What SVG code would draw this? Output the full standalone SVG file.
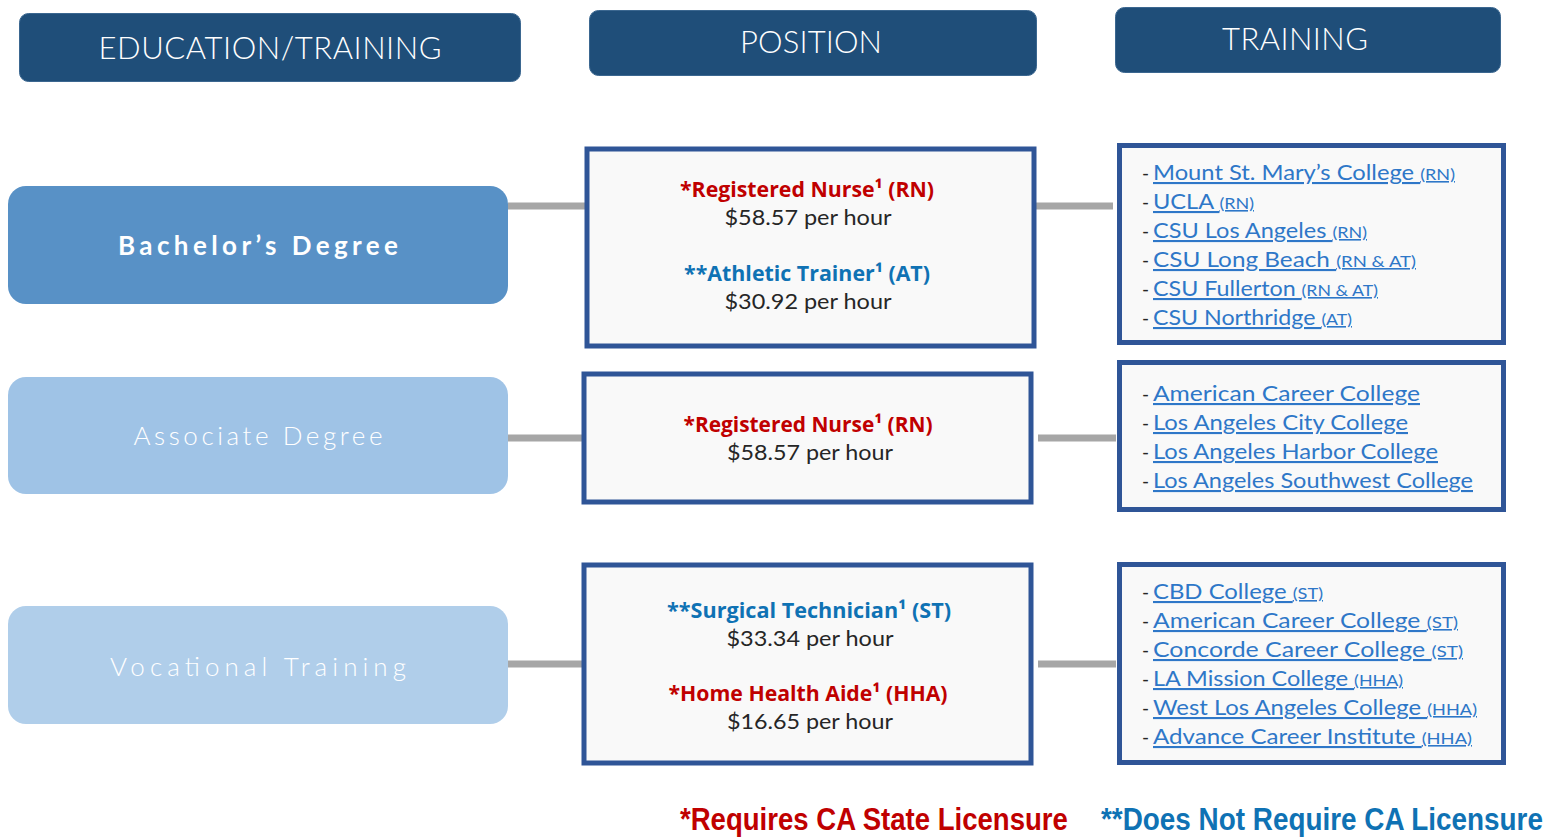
<svg xmlns="http://www.w3.org/2000/svg" width="1557" height="840" viewBox="0 0 1557 840">
<style>
.hdr{fill:#1F4E79;stroke:#3B6790;stroke-width:1}
.hdrt{font-family:Lato,"Open Sans",sans-serif;font-weight:300;font-size:31px;fill:#FFFFFF;text-anchor:middle}
.lvl{font-family:Lato,"Open Sans",sans-serif;font-size:26px;fill:#FFFFFF;text-anchor:middle}
.box{fill:#F9F9F9;stroke:#2F5597;stroke-width:5}
.conn{stroke:#A6A6A6;stroke-width:7;fill:none}
.pos{font-family:"Open Sans",Lato,sans-serif;font-weight:700;font-size:22px;text-anchor:middle}
.red{fill:#C00000}
.blue{fill:#0F72B4}
.pay{font-family:Lato,"Open Sans",sans-serif;font-size:21px;fill:#262626;text-anchor:middle}
.dash{font-family:Lato,sans-serif;font-size:19px;fill:#262626}
.lnk{font-family:Lato,"Open Sans",sans-serif;font-size:21px;fill:#2E77C8;text-decoration:underline}
.sm{font-size:16px}
.foot{font-family:"Liberation Sans",Arial,sans-serif;font-weight:700;font-size:31px}
</style>
<g id="header-education"><rect class="hdr" x="19.5" y="13.5" width="501" height="68" rx="9"/><text class="hdrt" x="270" y="59" textLength="343" lengthAdjust="spacing">EDUCATION/TRAINING</text></g>
<g id="header-position"><rect class="hdr" x="589.5" y="10.5" width="447" height="65" rx="9"/><text class="hdrt" x="811" y="53" textLength="142" lengthAdjust="spacing">POSITION</text></g>
<g id="header-training"><rect class="hdr" x="1115.5" y="7.5" width="385" height="65" rx="9"/><text class="hdrt" x="1295" y="50" textLength="146" lengthAdjust="spacing">TRAINING</text></g>

<g id="connectors">
<line class="conn" x1="508" y1="206" x2="586" y2="206"/>
<line class="conn" x1="1036" y1="206" x2="1113" y2="206"/>
<line class="conn" x1="507" y1="438" x2="583" y2="438"/>
<line class="conn" x1="1038" y1="438" x2="1116" y2="438"/>
<line class="conn" x1="508" y1="664" x2="583" y2="664"/>
<line class="conn" x1="1038" y1="664" x2="1116" y2="664"/>
</g>

<g id="bachelors"><rect x="8" y="186" width="500" height="118" rx="18" fill="#5891C6"/><text class="lvl" x="258" y="255" font-weight="700" font-size="24" textLength="280" lengthAdjust="spacing">Bachelor’s Degree</text></g>
<g id="associate"><rect x="8" y="377" width="500" height="117" rx="18" fill="#9FC3E6"/><text class="lvl" x="258" y="445" font-weight="300" textLength="249" lengthAdjust="spacing">Associate Degree</text></g>
<g id="vocational"><rect x="8" y="606" width="500" height="118" rx="18" fill="#B0CEEA"/><text class="lvl" x="258" y="676" font-weight="300" textLength="296" lengthAdjust="spacing">Vocational Training</text></g>

<g id="pos-bachelors"><rect class="box" x="587" y="149" width="447" height="197"/>
<text class="pos red" x="807" y="197" textLength="254" lengthAdjust="spacingAndGlyphs">*Registered Nurse¹ (RN)</text>
<text class="pay" x="808" y="225" textLength="167" lengthAdjust="spacingAndGlyphs">$58.57 per hour</text>
<text class="pos blue" x="807" y="281" textLength="246" lengthAdjust="spacingAndGlyphs">**Athletic Trainer¹ (AT)</text>
<text class="pay" x="808" y="309" textLength="167" lengthAdjust="spacingAndGlyphs">$30.92 per hour</text></g>

<g id="pos-associate"><rect class="box" x="584" y="374" width="447" height="128"/>
<text class="pos red" x="808" y="432" textLength="249" lengthAdjust="spacingAndGlyphs">*Registered Nurse¹ (RN)</text>
<text class="pay" x="810" y="460" textLength="166" lengthAdjust="spacingAndGlyphs">$58.57 per hour</text></g>

<g id="pos-vocational"><rect class="box" x="584" y="565" width="447" height="198"/>
<text class="pos blue" x="809" y="618" textLength="284" lengthAdjust="spacingAndGlyphs">**Surgical Technician¹ (ST)</text>
<text class="pay" x="810" y="646" textLength="167" lengthAdjust="spacingAndGlyphs">$33.34 per hour</text>
<text class="pos red" x="808" y="701" textLength="279" lengthAdjust="spacingAndGlyphs">*Home Health Aide¹ (HHA)</text>
<text class="pay" x="810" y="729" textLength="166" lengthAdjust="spacingAndGlyphs">$16.65 per hour</text></g>

<g id="train-bachelors"><rect class="box" x="1119.5" y="145.5" width="384" height="197"/>
<text class="dash" x="1142" y="180">-</text><text class="lnk" x="1153" y="180" textLength="302" lengthAdjust="spacingAndGlyphs">Mount St. Mary’s College <tspan class="sm">(RN)</tspan></text>
<text class="dash" x="1142" y="209">-</text><text class="lnk" x="1153" y="209" textLength="101" lengthAdjust="spacingAndGlyphs">UCLA <tspan class="sm">(RN)</tspan></text>
<text class="dash" x="1142" y="238">-</text><text class="lnk" x="1153" y="238" textLength="214" lengthAdjust="spacingAndGlyphs">CSU Los Angeles <tspan class="sm">(RN)</tspan></text>
<text class="dash" x="1142" y="267">-</text><text class="lnk" x="1153" y="267" textLength="263" lengthAdjust="spacingAndGlyphs">CSU Long Beach <tspan class="sm">(RN &amp; AT)</tspan></text>
<text class="dash" x="1142" y="296">-</text><text class="lnk" x="1153" y="296" textLength="225" lengthAdjust="spacingAndGlyphs">CSU Fullerton <tspan class="sm">(RN &amp; AT)</tspan></text>
<text class="dash" x="1142" y="325">-</text><text class="lnk" x="1153" y="325" textLength="199" lengthAdjust="spacingAndGlyphs">CSU Northridge <tspan class="sm">(AT)</tspan></text></g>

<g id="train-associate"><rect class="box" x="1119.5" y="362.5" width="384" height="147"/>
<text class="dash" x="1142" y="401">-</text><text class="lnk" x="1153" y="401" textLength="267" lengthAdjust="spacingAndGlyphs">American Career College</text>
<text class="dash" x="1142" y="430">-</text><text class="lnk" x="1153" y="430" textLength="255" lengthAdjust="spacingAndGlyphs">Los Angeles City College</text>
<text class="dash" x="1142" y="459">-</text><text class="lnk" x="1153" y="459" textLength="285" lengthAdjust="spacingAndGlyphs">Los Angeles Harbor College</text>
<text class="dash" x="1142" y="488">-</text><text class="lnk" x="1153" y="488" textLength="320" lengthAdjust="spacingAndGlyphs">Los Angeles Southwest College</text></g>

<g id="train-vocational"><rect class="box" x="1119.5" y="564.5" width="384" height="198"/>
<text class="dash" x="1142" y="599">-</text><text class="lnk" x="1153" y="599" textLength="170" lengthAdjust="spacingAndGlyphs">CBD College <tspan class="sm">(ST)</tspan></text>
<text class="dash" x="1142" y="628">-</text><text class="lnk" x="1153" y="628" textLength="305" lengthAdjust="spacingAndGlyphs">American Career College <tspan class="sm">(ST)</tspan></text>
<text class="dash" x="1142" y="657">-</text><text class="lnk" x="1153" y="657" textLength="310" lengthAdjust="spacingAndGlyphs">Concorde Career College <tspan class="sm">(ST)</tspan></text>
<text class="dash" x="1142" y="686">-</text><text class="lnk" x="1153" y="686" textLength="250" lengthAdjust="spacingAndGlyphs">LA Mission College <tspan class="sm">(HHA)</tspan></text>
<text class="dash" x="1142" y="715">-</text><text class="lnk" x="1153" y="715" textLength="324" lengthAdjust="spacingAndGlyphs">West Los Angeles College <tspan class="sm">(HHA)</tspan></text>
<text class="dash" x="1142" y="744">-</text><text class="lnk" x="1153" y="744" textLength="319" lengthAdjust="spacingAndGlyphs">Advance Career Institute <tspan class="sm">(HHA)</tspan></text></g>

<g id="legend">
<text class="foot red" transform="translate(680,830) scale(0.9,1)" x="0" y="0" textLength="431" lengthAdjust="spacingAndGlyphs">*Requires CA State Licensure</text>
<text class="foot blue" transform="translate(1101,830) scale(0.9,1)" x="0" y="0" textLength="491" lengthAdjust="spacingAndGlyphs">**Does Not Require CA Licensure</text>
</g>
</svg>
